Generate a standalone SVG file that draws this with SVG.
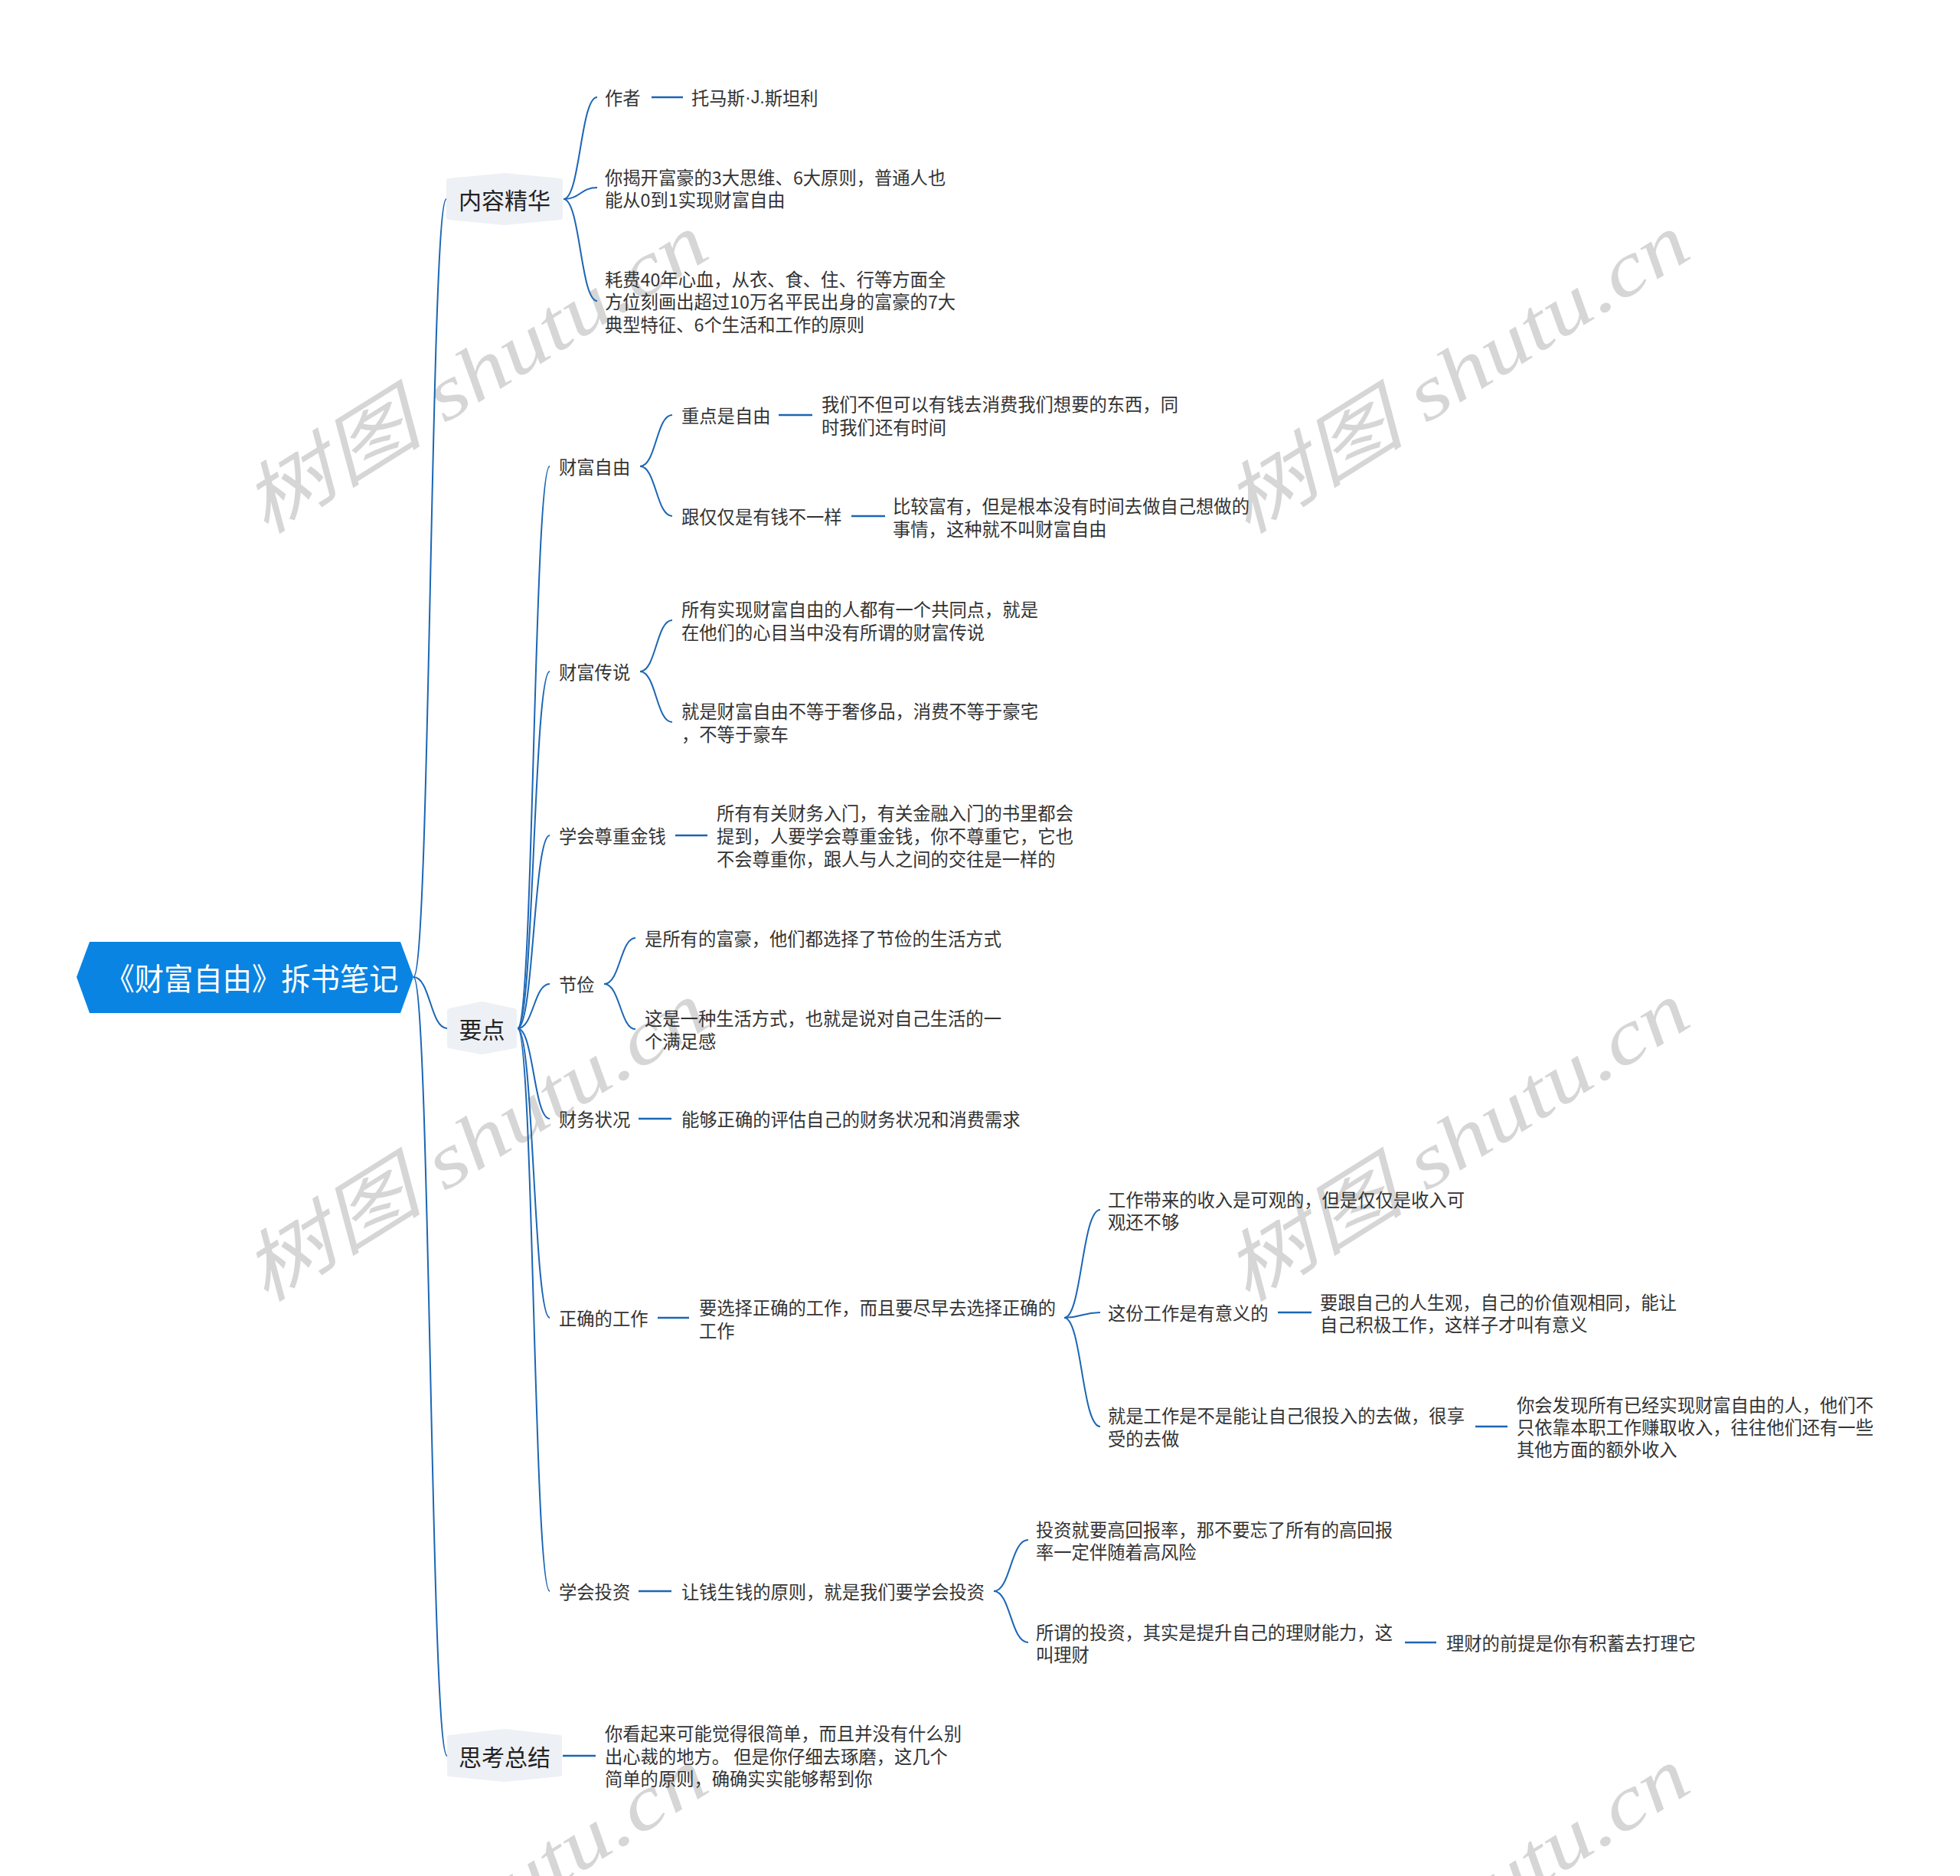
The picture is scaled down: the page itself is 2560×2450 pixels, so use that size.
<svg xmlns="http://www.w3.org/2000/svg" width="2560" height="2450" viewBox="0 0 2560 2450">
<style>
.t{font-family:"Noto Sans CJK SC","Noto Sans",sans-serif;font-size:23.3px;fill:#333333;dominant-baseline:central}
.l1{font-size:30px;fill:#222222}
.rt{font-family:"Noto Sans CJK SC","Noto Sans",sans-serif;font-size:40px;fill:#ffffff;dominant-baseline:central}
.c{fill:none;stroke:#1b66b5;stroke-width:2}
.s{fill:none;stroke:#1b66b5;stroke-width:2.6}
.hex{fill:#edf0f5;stroke:#edf0f5;stroke-width:6;stroke-linejoin:round}
.wm{font-family:"Liberation Serif","Noto Sans CJK SC",serif;font-style:italic;font-size:100px;fill:#d6d6d6}
.lat{font-family:"Liberation Sans",sans-serif}
</style>
<rect width="2560" height="2450" fill="#ffffff"/>
<g id="watermark">
<text class="wm" transform="translate(346,700) rotate(-32)" textLength="690" lengthAdjust="spacingAndGlyphs">树图 shutu.cn</text>
<text class="wm" transform="translate(1628,700) rotate(-32)" textLength="690" lengthAdjust="spacingAndGlyphs">树图 shutu.cn</text>
<text class="wm" transform="translate(346,1703) rotate(-32)" textLength="690" lengthAdjust="spacingAndGlyphs">树图 shutu.cn</text>
<text class="wm" transform="translate(1628,1703) rotate(-32)" textLength="690" lengthAdjust="spacingAndGlyphs">树图 shutu.cn</text>
<text class="wm" transform="translate(346,2703) rotate(-32)" textLength="690" lengthAdjust="spacingAndGlyphs">树图 shutu.cn</text>
<text class="wm" transform="translate(1628,2703) rotate(-32)" textLength="690" lengthAdjust="spacingAndGlyphs">树图 shutu.cn</text>
</g>
<g id="connectors">
<path class="c" d="M540,1276 C562,1276 562,260 583,260"/>
<path class="c" d="M540,1276 C562,1276 562,1343 584,1343"/>
<path class="c" d="M540,1276 C562,1276 562,2293 584,2293"/>
<path class="c" d="M736,260 C758,260 758,127 780,127"/>
<path class="c" d="M736,260 C758,260 758,245 780,245"/>
<path class="c" d="M736,260 C758,260 758,393 780,393"/>
<path class="s" d="M851,127 H892"/>
<path class="c" d="M676,1343 C697,1343 697,609 718,609"/>
<path class="c" d="M676,1343 C697,1343 697,877 718,877"/>
<path class="c" d="M676,1343 C697,1343 697,1091 718,1091"/>
<path class="c" d="M676,1343 C697,1343 697,1285 718,1285"/>
<path class="c" d="M676,1343 C697,1343 697,1461 718,1461"/>
<path class="c" d="M676,1343 C697,1343 697,1721 718,1721"/>
<path class="c" d="M676,1343 C697,1343 697,2078 718,2078"/>
<path class="c" d="M836,609 C857,609 857,542 878,542"/>
<path class="c" d="M836,609 C857,609 857,674 878,674"/>
<path class="s" d="M1017,542 H1061"/>
<path class="s" d="M1112,674 H1156"/>
<path class="c" d="M836,877 C857,877 857,810 878,810"/>
<path class="c" d="M836,877 C857,877 857,943 878,943"/>
<path class="s" d="M882,1091 H924"/>
<path class="c" d="M789,1285 C810,1285 810,1225 830,1225"/>
<path class="c" d="M789,1285 C810,1285 810,1344 830,1344"/>
<path class="s" d="M834,1461 H877"/>
<path class="s" d="M859,1721 H900"/>
<path class="c" d="M1390,1721 C1413,1721 1413,1580 1437,1580"/>
<path class="c" d="M1390,1721 C1413,1721 1413,1714 1437,1714"/>
<path class="c" d="M1390,1721 C1413,1721 1413,1863 1437,1863"/>
<path class="s" d="M1669,1714 H1713"/>
<path class="s" d="M1927,1863 H1969"/>
<path class="s" d="M834,2078 H877"/>
<path class="c" d="M1298,2078 C1320,2078 1320,2011 1343,2011"/>
<path class="c" d="M1298,2078 C1320,2078 1320,2145 1343,2145"/>
<path class="s" d="M1835,2145 H1876"/>
<path class="s" d="M735,2293 H778"/>
</g>
<g id="root">
<polygon points="100,1276 117,1230 523,1230 540,1276 523,1323 117,1323" fill="#0984e3"/>
<text class="rt" x="329" y="1276" text-anchor="middle" textLength="383" lengthAdjust="spacingAndGlyphs">《财富自由》拆书笔记</text>
</g>
<g id="n-neirong">
<polygon class="hex" points="586,236 659,229 732,236 732,284 659,291 586,284"/>
<text class="t l1" x="659" y="260" text-anchor="middle">内容精华</text>
</g>
<g id="n-zuozhe"><text class="t" x="790" y="127">作者</text></g>
<g id="n-author"><text class="t" x="903" y="127">托马斯<tspan class="lat">·J.</tspan>斯坦利</text></g>
<g id="n-jiekai"><text class="t"><tspan x="790" y="231">你揭开富豪的3大思维、6大原则，普通人也</tspan><tspan x="790" y="260">能从0到1实现财富自由</tspan></text></g>
<g id="n-haofei"><text class="t"><tspan x="790" y="364">耗费40年心血，从衣、食、住、行等方面全</tspan><tspan x="790" y="393">方位刻画出超过10万名平民出身的富豪的7大</tspan><tspan x="790" y="423">典型特征、6个生活和工作的原则</tspan></text></g>
<g id="n-yaodian">
<polygon class="hex" points="587,1320 629.5,1311 672,1320 672,1366 629.5,1374 587,1366"/>
<text class="t l1" x="629.5" y="1343" text-anchor="middle">要点</text>
</g>
<g id="n-caifuziyou"><text class="t" x="730" y="609">财富自由</text></g>
<g id="n-zhongdian"><text class="t" x="890" y="542">重点是自由</text></g>
<g id="n-zhongdian-c"><text class="t"><tspan x="1073" y="527">我们不但可以有钱去消费我们想要的东西，同</tspan><tspan x="1073" y="557">时我们还有时间</tspan></text></g>
<g id="n-genjinjin"><text class="t" x="890" y="674">跟仅仅是有钱不一样</text></g>
<g id="n-genjinjin-c"><text class="t"><tspan x="1166" y="660">比较富有，但是根本没有时间去做自己想做的</tspan><tspan x="1166" y="690">事情，这种就不叫财富自由</tspan></text></g>
<g id="n-chuanshuo"><text class="t" x="730" y="877">财富传说</text></g>
<g id="n-chuanshuo-1"><text class="t"><tspan x="890" y="795">所有实现财富自由的人都有一个共同点，就是</tspan><tspan x="890" y="825">在他们的心目当中没有所谓的财富传说</tspan></text></g>
<g id="n-chuanshuo-2"><text class="t"><tspan x="890" y="928">就是财富自由不等于奢侈品，消费不等于豪宅</tspan><tspan x="890" y="958">，不等于豪车</tspan></text></g>
<g id="n-zunzhong"><text class="t" x="730" y="1091">学会尊重金钱</text></g>
<g id="n-zunzhong-c"><text class="t"><tspan x="936" y="1061">所有有关财务入门，有关金融入门的书里都会</tspan><tspan x="936" y="1091">提到，人要学会尊重金钱，你不尊重它，它也</tspan><tspan x="936" y="1121">不会尊重你，跟人与人之间的交往是一样的</tspan></text></g>
<g id="n-jiejian"><text class="t" x="730" y="1285">节俭</text></g>
<g id="n-jiejian-1"><text class="t" x="842" y="1225">是所有的富豪，他们都选择了节俭的生活方式</text></g>
<g id="n-jiejian-2"><text class="t"><tspan x="842" y="1329">这是一种生活方式，也就是说对自己生活的一</tspan><tspan x="842" y="1359">个满足感</tspan></text></g>
<g id="n-caiwu"><text class="t" x="730" y="1461">财务状况</text></g>
<g id="n-caiwu-c"><text class="t" x="890" y="1461">能够正确的评估自己的财务状况和消费需求</text></g>
<g id="n-gongzuo"><text class="t" x="730" y="1721">正确的工作</text></g>
<g id="n-gongzuo-c"><text class="t"><tspan x="913" y="1707">要选择正确的工作，而且要尽早去选择正确的</tspan><tspan x="913" y="1737">工作</tspan></text></g>
<g id="n-gz-1"><text class="t"><tspan x="1447" y="1566">工作带来的收入是可观的，但是仅仅是收入可</tspan><tspan x="1447" y="1595">观还不够</tspan></text></g>
<g id="n-gz-2"><text class="t" x="1447" y="1714">这份工作是有意义的</text></g>
<g id="n-gz-2c"><text class="t"><tspan x="1724" y="1700">要跟自己的人生观，自己的价值观相同，能让</tspan><tspan x="1724" y="1729">自己积极工作，这样子才叫有意义</tspan></text></g>
<g id="n-gz-3"><text class="t"><tspan x="1447" y="1848">就是工作是不是能让自己很投入的去做，很享</tspan><tspan x="1447" y="1878">受的去做</tspan></text></g>
<g id="n-gz-3c"><text class="t"><tspan x="1981" y="1834">你会发现所有已经实现财富自由的人，他们不</tspan><tspan x="1981" y="1863">只依靠本职工作赚取收入，往往他们还有一些</tspan><tspan x="1981" y="1892">其他方面的额外收入</tspan></text></g>
<g id="n-touzi"><text class="t" x="730" y="2078">学会投资</text></g>
<g id="n-touzi-c"><text class="t" x="890" y="2078">让钱生钱的原则，就是我们要学会投资</text></g>
<g id="n-tz-1"><text class="t"><tspan x="1353" y="1997">投资就要高回报率，那不要忘了所有的高回报</tspan><tspan x="1353" y="2026">率一定伴随着高风险</tspan></text></g>
<g id="n-tz-2"><text class="t"><tspan x="1353" y="2131">所谓的投资，其实是提升自己的理财能力，这</tspan><tspan x="1353" y="2160">叫理财</tspan></text></g>
<g id="n-tz-2c"><text class="t" x="1889" y="2145">理财的前提是你有积蓄去打理它</text></g>
<g id="n-sikao">
<polygon class="hex" points="587,2269 659,2261 731,2269 731,2317 659,2324 587,2317"/>
<text class="t l1" x="659" y="2293" text-anchor="middle">思考总结</text>
</g>
<g id="n-sikao-c"><text class="t"><tspan x="790" y="2263">你看起来可能觉得很简单，而且并没有什么别</tspan><tspan x="790" y="2293">出心裁的地方。 但是你仔细去琢磨，这几个</tspan><tspan x="790" y="2322">简单的原则，确确实实能够帮到你</tspan></text></g>
</svg>
